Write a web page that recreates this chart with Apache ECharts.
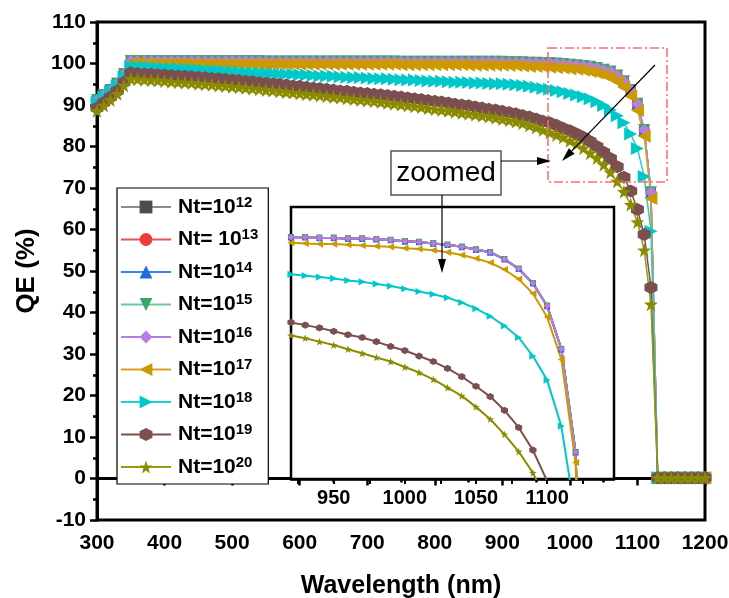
<!DOCTYPE html>
<html>
<head>
<meta charset="utf-8">
<script src="https://cdn.jsdelivr.net/npm/echarts@6/dist/echarts.min.js"></script>
<style>
  html, body { margin: 0; padding: 0; background: #fff; }
  #main { width: 729px; height: 598px; }
</style>
</head>
<body>
<div id="main"></div>
<script>
// wavelength grid (nm)
const wavelength = [
  300, 310, 320, 330, 340, 350, 360, 370, 380, 390,
  400, 410, 420, 430, 440, 450, 460, 470, 480, 490,
  500, 510, 520, 530, 540, 550, 560, 570, 580, 590,
  600, 610, 620, 630, 640, 650, 660, 670, 680, 690,
  700, 710, 720, 730, 740, 750, 760, 770, 780, 790,
  800, 810, 820, 830, 840, 850, 860, 870, 880, 890,
  900, 910, 920, 930, 940, 950, 960, 970, 980, 990,
  1000, 1010, 1020, 1030, 1040, 1050, 1060, 1070, 1080, 1090,
  1100, 1110, 1120, 1130, 1140, 1150, 1160, 1170, 1180, 1190,
  1200
];

// Nt = 1e12 ... 1e16 lie on top of each other
const qeNt12to16 = [
  91.2, 92.4, 93.6, 95.2, 97.5, 100.6, 100.6, 100.6, 100.6, 100.6,
  100.6, 100.6, 100.6, 100.6, 100.6, 100.6, 100.6, 100.6, 100.6, 100.6,
  100.6, 100.6, 100.6, 100.6, 100.6, 100.5, 100.5, 100.5, 100.5, 100.5,
  100.5, 100.5, 100.5, 100.5, 100.5, 100.5, 100.5, 100.5, 100.5, 100.5,
  100.5, 100.5, 100.5, 100.5, 100.5, 100.4, 100.4, 100.4, 100.4, 100.4,
  100.4, 100.4, 100.4, 100.4, 100.4, 100.4, 100.4, 100.4, 100.4, 100.4,
  100.4, 100.3, 100.3, 100.3, 100.2, 100.2, 100.1, 100.1, 100.0, 99.9,
  99.7, 99.6, 99.4, 99.2, 98.9, 98.5, 98.1, 97.1, 95.7, 93.6,
  90.3, 84.0, 69.0, 0.2, 0.2, 0.2, 0.2, 0.2, 0.2, 0.2,
  0.2
];
const qeNt17 = [
  90.9, 92.1, 93.4, 95.0, 97.2, 100.1, 100.1, 100.0, 100.0, 100.0,
  100.0, 100.0, 100.0, 100.0, 100.0, 100.0, 99.9, 99.9, 99.9, 99.9,
  99.9, 99.9, 99.9, 99.9, 99.9, 99.9, 99.9, 99.9, 99.9, 99.9,
  99.8, 99.8, 99.8, 99.8, 99.8, 99.8, 99.8, 99.8, 99.8, 99.8,
  99.8, 99.8, 99.8, 99.8, 99.8, 99.7, 99.7, 99.7, 99.7, 99.7,
  99.7, 99.7, 99.7, 99.7, 99.7, 99.6, 99.6, 99.6, 99.6, 99.6,
  99.6, 99.5, 99.5, 99.4, 99.3, 99.3, 99.2, 99.1, 99.0, 98.9,
  98.7, 98.6, 98.4, 98.1, 97.7, 97.2, 96.6, 95.6, 94.2, 92.1,
  88.7, 82.5, 67.5, 0.2, 0.2, 0.2, 0.2, 0.2, 0.2, 0.2,
  0.2
];
const qeNt18 = [
  90.6, 91.9, 93.2, 94.7, 96.8, 99.3, 99.3, 99.2, 99.1, 99.0,
  98.9, 98.8, 98.8, 98.7, 98.6, 98.5, 98.4, 98.3, 98.3, 98.2,
  98.1, 98.0, 97.9, 97.8, 97.8, 97.7, 97.6, 97.5, 97.4, 97.4,
  97.3, 97.2, 97.1, 97.0, 97.0, 96.9, 96.8, 96.7, 96.6, 96.6,
  96.5, 96.4, 96.3, 96.3, 96.2, 96.1, 96.0, 96.0, 95.9, 95.8,
  95.7, 95.7, 95.6, 95.5, 95.5, 95.4, 95.3, 95.3, 95.2, 95.1,
  95.1, 95.0, 94.9, 94.7, 94.5, 94.3, 94.0, 93.8, 93.5, 93.2,
  92.8, 92.4, 92.0, 91.5, 90.8, 89.9, 88.8, 87.4, 85.7, 83.0,
  79.5, 72.8, 59.6, 0.2, 0.2, 0.2, 0.2, 0.2, 0.2, 0.2,
  0.2
];
const qeNt19 = [
  89.3, 90.6, 91.9, 93.4, 95.5, 97.8, 97.6, 97.5, 97.4, 97.3,
  97.2, 97.1, 97.0, 96.9, 96.8, 96.7, 96.6, 96.4, 96.3, 96.2,
  96.0, 95.9, 95.7, 95.6, 95.4, 95.3, 95.1, 95.0, 94.8, 94.6,
  94.5, 94.3, 94.1, 94.0, 93.8, 93.6, 93.4, 93.3, 93.1, 92.9,
  92.8, 92.6, 92.5, 92.3, 92.1, 91.9, 91.7, 91.5, 91.3, 91.1,
  90.9, 90.7, 90.5, 90.2, 90.0, 89.8, 89.5, 89.3, 89.0, 88.8,
  88.5, 88.2, 87.9, 87.5, 87.1, 86.6, 86.1, 85.7, 85.1, 84.4,
  83.8, 83.0, 82.2, 81.2, 80.0, 78.6, 77.1, 75.1, 72.6, 69.3,
  64.8, 58.8, 46.0, 0.2, 0.2, 0.2, 0.2, 0.2, 0.2, 0.2,
  0.2
];
const qeNt20 = [
  88.6, 89.9, 91.2, 92.7, 94.7, 96.3, 96.2, 96.1, 96.0, 95.9,
  95.8, 95.6, 95.5, 95.4, 95.3, 95.1, 95.0, 94.9, 94.7, 94.6,
  94.4, 94.3, 94.1, 94.0, 93.8, 93.6, 93.5, 93.3, 93.1, 93.0,
  92.8, 92.6, 92.5, 92.3, 92.1, 91.9, 91.8, 91.6, 91.4, 91.2,
  91.1, 90.9, 90.7, 90.5, 90.3, 90.1, 89.9, 89.7, 89.5, 89.2,
  89.0, 88.8, 88.6, 88.4, 88.1, 87.9, 87.7, 87.4, 87.2, 86.9,
  86.6, 86.3, 86.0, 85.6, 85.1, 84.6, 84.0, 83.4, 82.8, 82.2,
  81.4, 80.6, 79.6, 78.4, 77.2, 75.6, 73.8, 71.6, 69.1, 66.0,
  61.8, 55.0, 42.0, 0.2, 0.2, 0.2, 0.2, 0.2, 0.2, 0.2,
  0.2
];

const insetLabelTicks = [950, 1000, 1050, 1100];
const insetTicks = [925, 950, 975, 1000, 1025, 1050, 1075, 1100, 1125];

const hexagon = 'path://M0,-1 L0.866,-0.5 L0.866,0.5 L0,1 L-0.866,0.5 L-0.866,-0.5 Z';
const star = 'path://M0,-1 L0.235,-0.324 L0.951,-0.309 L0.38,0.124 L0.588,0.809 L0,0.4 L-0.588,0.809 L-0.38,0.124 L-0.951,-0.309 L-0.235,-0.324 Z';

const curves = [
  { name: 'Nt=10^12', values: qeNt12to16, symbol: 'rect', rot: 0, size: 10, color: '#4d4d4d', line: '#8c8c8c' },
  { name: 'Nt= 10^13', values: qeNt12to16, symbol: 'circle', rot: 0, size: 11, color: '#f03a3a', line: '#f05050' },
  { name: 'Nt=10^14', values: qeNt12to16, symbol: 'triangle', rot: 0, size: 12, color: '#1f6ee0', line: '#3a86e8' },
  { name: 'Nt=10^15', values: qeNt12to16, symbol: 'triangle', rot: 180, size: 12, color: '#3aa66a', line: '#6cc79a' },
  { name: 'Nt=10^16', values: qeNt12to16, symbol: 'diamond', rot: 0, size: 12, color: '#b57ee6', line: '#b57ee6' },
  { name: 'Nt=10^17', values: qeNt17, symbol: 'triangle', rot: 90, size: 13, color: '#cc9900', line: '#d4a420' },
  { name: 'Nt=10^18', values: qeNt18, symbol: 'triangle', rot: -90, size: 13, color: '#00c8c8', line: '#20d0d0' },
  { name: 'Nt=10^19', values: qeNt19, symbol: hexagon, rot: 0, size: 13, color: '#7b4f50', line: '#7b4f50' },
  { name: 'Nt=10^20', values: qeNt20, symbol: star, rot: 0, size: 14, color: '#8b8b00', line: '#9a9a10' }
];

const FONT = '"Liberation Sans", Arial, sans-serif';

const series = [];
curves.forEach(function (c) {
  const pts = wavelength.map(function (w, i) { return [w, c.values[i]]; });
  series.push({
    name: c.name, type: 'line', xAxisIndex: 0, yAxisIndex: 0,
    data: pts, symbol: c.symbol, symbolRotate: c.rot, symbolSize: c.size,
    itemStyle: { color: c.color }, lineStyle: { color: c.line, width: 1.5 }
  });
});
curves.forEach(function (c) {
  const pts = wavelength.map(function (w, i) { return [w, c.values[i]]; });
  series.push({
    name: c.name, type: 'line', xAxisIndex: 1, yAxisIndex: 1, z: 5,
    data: pts, symbol: c.symbol, symbolRotate: c.rot, symbolSize: c.size * 0.55,
    itemStyle: { color: c.color }, lineStyle: { color: c.color, width: 2 }
  });
});

function arrow(x1, y1, x2, y2) {
  const dx = x2 - x1, dy = y2 - y1, len = Math.sqrt(dx * dx + dy * dy);
  const ux = dx / len, uy = dy / len, hl = 14, hw = 4;
  const bx = x2 - ux * hl, by = y2 - uy * hl;
  return [
    { type: 'line', z: 100, shape: { x1: x1, y1: y1, x2: bx, y2: by }, style: { stroke: '#000', lineWidth: 1.2 } },
    { type: 'polygon', z: 100, shape: { points: [[x2, y2], [bx - uy * hw, by + ux * hw], [bx + uy * hw, by - ux * hw]] }, style: { fill: '#000' } }
  ];
}

const graphics = [
  { type: 'rect', z: 100, shape: { x: 548, y: 48, width: 119, height: 134 },
    style: { fill: 'none', stroke: '#ff6a6a', lineWidth: 1.5, lineDash: [9, 3, 2, 3] } },
  { type: 'rect', z: 100, shape: { x: 391, y: 151, width: 110, height: 44 },
    style: { fill: '#fff', stroke: '#555', lineWidth: 1.5 } },
  { type: 'text', z: 101, x: 446, y: 173,
    style: { text: 'zoomed', font: '28px "Liberation Sans", Arial, sans-serif', fill: '#000', align: 'center', verticalAlign: 'middle' } }
].concat(arrow(655, 65, 562, 161), arrow(501, 161, 551, 161), arrow(442, 195, 442, 273));

const plain = function (v) { return String(v); };

const chart = echarts.init(document.getElementById('main'));
chart.setOption({
  animation: false,
  backgroundColor: '#fff',
  grid: [
    { left: 97, top: 22, width: 608, height: 498, show: true, borderColor: '#000', borderWidth: 3, outerBoundsMode: 'none', containLabel: false },
    { left: 291, top: 207, width: 323, height: 272, show: true, borderColor: '#000', borderWidth: 2.5, backgroundColor: '#fff', z: 4, outerBoundsMode: 'none', containLabel: false }
  ],
  legend: {
    orient: 'vertical', left: 117, top: 188,
    data: curves.map(function (c) { return c.name; }),
    itemWidth: 50, itemHeight: 16, itemGap: 8.5,
    padding: [7, 10, 5, 3],
    borderColor: '#000', borderWidth: 1.2, backgroundColor: '#fff',
    formatter: function (n) { return n.replace(/\^(\d+)/, '{s|$1}'); },
    textStyle: {
      fontFamily: FONT, fontWeight: 'bold', fontSize: 21, color: '#000', lineHeight: 24, padding: [0, 0, 0, 2],
      rich: { s: { fontFamily: FONT, fontWeight: 'bold', fontSize: 15, color: '#000', verticalAlign: 'top', lineHeight: 12 } }
    }
  },
  xAxis: [
    {
      type: 'value', gridIndex: 0, min: 300, max: 1200, interval: 100,
      name: 'Wavelength (nm)', nameLocation: 'middle', nameGap: 54,
      nameTextStyle: { fontFamily: FONT, fontWeight: 'bold', fontSize: 25, color: '#000', verticalAlign: 'top' },
      axisLine: { lineStyle: { color: '#000', width: 3 } },
      axisTick: { inside: false, length: 7, lineStyle: { color: '#000', width: 2.5 } },
      minorTick: { show: true, splitNumber: 2, length: 4, lineStyle: { color: '#000', width: 2.5 } },
      axisLabel: { margin: 13, formatter: plain, fontFamily: FONT, fontWeight: 'bold', fontSize: 21, color: '#000' },
      splitLine: { show: false }
    },
    {
      type: 'value', gridIndex: 1, min: 920, max: 1147,
      axisLine: { lineStyle: { color: '#000', width: 2.5 } },
      axisTick: { inside: false, length: 5, customValues: insetTicks, lineStyle: { color: '#000', width: 2 } },
      axisLabel: { margin: 9, formatter: plain, customValues: insetLabelTicks, fontFamily: FONT, fontWeight: 'bold', fontSize: 20, color: '#000' },
      splitLine: { show: false }
    }
  ],
  yAxis: [
    {
      type: 'value', gridIndex: 0, min: -10, max: 110, interval: 10,
      name: 'QE (%)', nameLocation: 'middle', nameGap: 52, nameRotate: 90,
      nameTextStyle: { fontFamily: FONT, fontWeight: 'bold', fontSize: 26, color: '#000' },
      axisLine: { lineStyle: { color: '#000', width: 3 } },
      axisTick: { inside: false, length: 7, lineStyle: { color: '#000', width: 2.5 } },
      minorTick: { show: true, splitNumber: 2, length: 4, lineStyle: { color: '#000', width: 2.5 } },
      axisLabel: { margin: 11, formatter: plain, fontFamily: FONT, fontWeight: 'bold', fontSize: 21, color: '#000' },
      splitLine: { show: false }
    },
    {
      type: 'value', gridIndex: 1, min: 65.1, max: 104.7,
      axisLine: { show: false }, axisTick: { show: false }, axisLabel: { show: false }, splitLine: { show: false }
    }
  ],
  graphic: graphics,
  series: series
});
</script>
</body>
</html>
